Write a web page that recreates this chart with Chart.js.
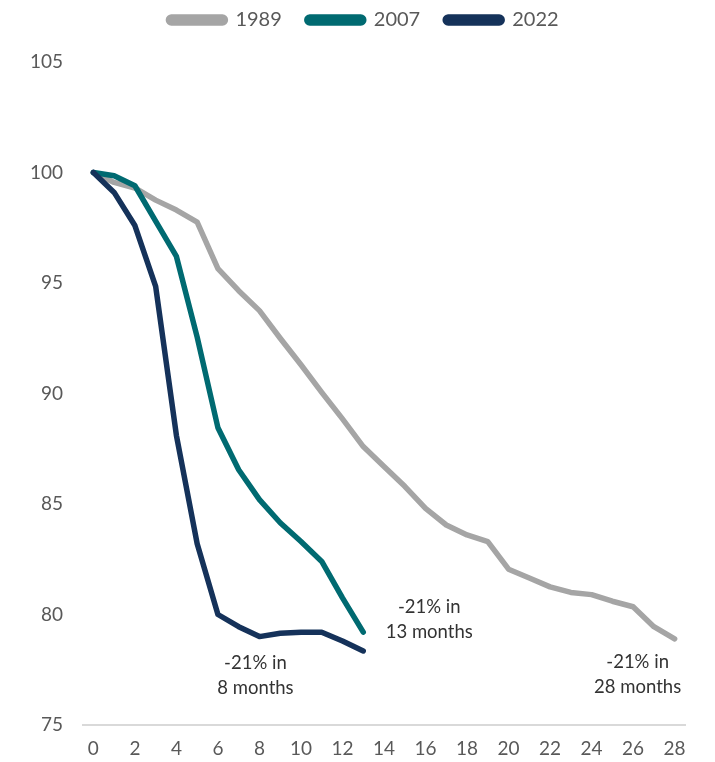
<!DOCTYPE html>
<html>
<head>
<meta charset="utf-8">
<script src="https://cdn.jsdelivr.net/npm/chart.js@4/dist/chart.umd.min.js"></script>
<style>
  html, body { margin: 0; padding: 0; background: #ffffff; }
  #wrap { width: 715px; height: 762px; }
</style>
</head>
<body>
<div id="wrap"><canvas id="c" width="715" height="762"></canvas></div>
<script>
// Months since peak (x axis categories)
const months = [0,1,2,3,4,5,6,7,8,9,10,11,12,13,14,15,16,17,18,19,20,21,22,23,24,25,26,27,28];

// Index level, peak = 100
const series1989 = [100, 99.55, 99.3, 98.75, 98.3, 97.75, 95.65, 94.65, 93.75, 92.5, 91.3, 90.05, 88.85, 87.6, 86.7, 85.8, 84.8, 84.05, 83.6, 83.3, 82.05, 81.65, 81.25, 81.0, 80.9, 80.6, 80.35, 79.45, 78.9];
const series2007 = [100, 99.85, 99.4, 97.8, 96.2, 92.55, 88.45, 86.55, 85.2, 84.15, 83.3, 82.4, 80.75, 79.2];
const series2022 = [100, 99.1, 97.6, 94.85, 88.1, 83.2, 80.0, 79.45, 79.0, 79.15, 79.2, 79.2, 78.8, 78.35];

const seriesNames = ['1989', '2007', '2022'];
const yTicks = [75, 80, 85, 90, 95, 100, 105];

// Callout text: series index, month it points at, text lines
const callouts = [
  { series: 1, month: 13, lines: ['-21% in', '13 months'] },
  { series: 2, month: 8,  lines: ['-21% in', '8 months'] },
  { series: 0, month: 28, lines: ['-21% in', '28 months'] }
];

const colors = ['#A5A5A5', '#006A71', '#15325A'];
const FONT = 'Lato, "Open Sans", "Liberation Sans", sans-serif';

const calloutPlugin = {
  id: 'callouts',
  afterDatasetsDraw(chart) {
    const ctx = chart.ctx;
    const xs = chart.scales.x, ys = chart.scales.y;
    ctx.save();
    ctx.font = '18.5px ' + FONT;
    ctx.fillStyle = '#333333';
    ctx.textAlign = 'center';
    ctx.textBaseline = 'middle';
    callouts.forEach(c => {
      const v = chart.data.datasets[c.series].data[c.month];
      const px = xs.getPixelForValue(c.month);
      const py = ys.getPixelForValue(v);
      let cx, cy;
      if (c.series === 1) { cx = px + 66; cy = py - 25; }
      else if (c.series === 2) { cx = px - 4; cy = py + 26; }
      else { cx = px - 37; cy = py + 23; }
      c.lines.forEach((t, i) => ctx.fillText(t, cx, cy + i * 25));
    });
    ctx.restore();
  }
};

// Place the legend row near the top edge, centred over the plot
const legendShift = {
  id: 'legendShift',
  afterLayout(chart) {
    const l = chart.legend;
    if (!l) return;
    const dx = 21, dy = -22;
    l.left += dx; l.right += dx;
    l.top += dy; l.bottom += dy;
  }
};

const ds = (i, data, order) => ({
  label: seriesNames[i],
  data: data,
  borderColor: colors[i],
  backgroundColor: colors[i],
  borderWidth: 5.5,
  borderCapStyle: 'round',
  borderJoinStyle: 'round',
  pointRadius: 0,
  tension: 0,
  fill: false,
  order: order
});

new Chart(document.getElementById('c'), {
  type: 'line',
  data: {
    labels: months,
    datasets: [ds(0, series1989, 3), ds(1, series2007, 2), ds(2, series2022, 1)]
  },
  options: {
    responsive: false,
    animation: false,
    layout: { padding: { top: 7, right: 30, bottom: 0, left: 0 } },
    plugins: {
      tooltip: { enabled: false },
      legend: {
        position: 'top',
        align: 'center',
        labels: {
          boxWidth: 57,
          boxHeight: 6,
          useBorderRadius: true,
          borderRadius: 3,
          padding: 25,
          color: '#595959',
          font: { family: FONT, size: 20 },
          sort: (a, b) => a.datasetIndex - b.datasetIndex
        }
      }
    },
    scales: {
      x: {
        type: 'category',
        offset: true,
        grid: { display: false, drawTicks: false },
        border: { display: true, color: '#D9D9D9', width: 2 },
        ticks: {
          autoSkip: false,
          maxRotation: 0,
          padding: 12,
          color: '#595959',
          font: { family: FONT, size: 19 },
          callback: function(val, idx) {
            const m = months[idx];
            return m % 2 === 0 ? String(m) : '';
          }
        },
        afterFit: s => { s.height = 37; }
      },
      y: {
        min: 75,
        max: 105,
        afterBuildTicks: s => { s.ticks = yTicks.map(v => ({ value: v })); },
        grid: { display: false, drawTicks: false },
        border: { display: false },
        ticks: {
          padding: 20,
          color: '#595959',
          font: { family: FONT, size: 19 }
        },
        afterFit: s => { s.width = 83; }
      }
    }
  },
  plugins: [calloutPlugin, legendShift]
});
</script>
</body>
</html>
